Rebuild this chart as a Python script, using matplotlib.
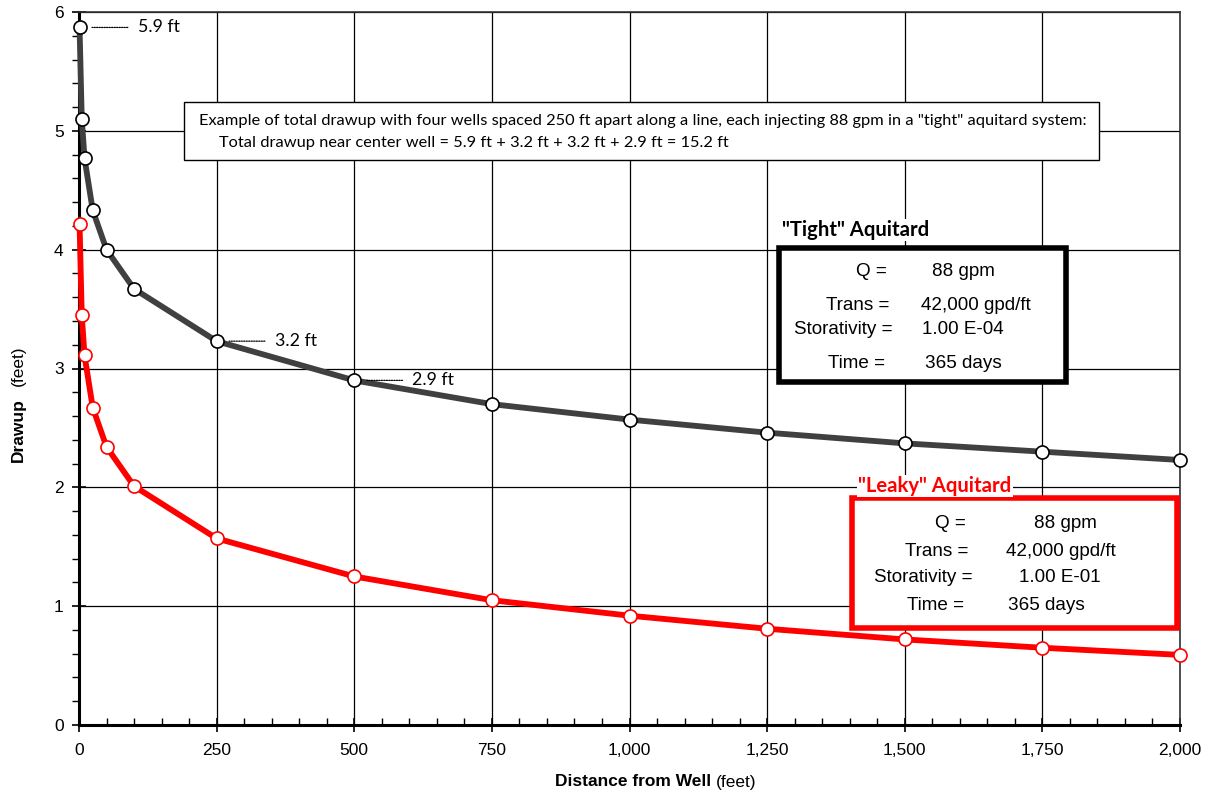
import matplotlib
matplotlib.use('Agg')
import matplotlib.pyplot as plt
import matplotlib.patches as patches
from matplotlib.ticker import MultipleLocator, StrMethodFormatter

# Data
distance = [1, 5, 10, 25, 50, 100, 250, 500, 750, 1000, 1250, 1500, 1750, 2000]
tight_drawup = [5.87, 5.10, 4.77, 4.33, 4.00, 3.67, 3.23, 2.90, 2.70, 2.57, 2.46, 2.37, 2.30, 2.23]
leaky_drawup = [4.22, 3.45, 3.11, 2.67, 2.34, 2.01, 1.57, 1.25, 1.05, 0.92, 0.81, 0.72, 0.65, 0.59]

callout_idx = [0, 6, 7]  # points labelled with their drawup
box_labels = ['Q =', 'Trans =', 'Storativity =', 'Time =']
tight_values = ['88 gpm', '42,000 gpd/ft', '1.00 E-04', '365 days']
leaky_values = ['88 gpm', '42,000 gpd/ft', '1.00 E-01', '365 days']

W, H = 1214, 796
NARROW = ['Liberation Sans Narrow', 'Liberation Sans', 'DejaVu Sans']
CAL = ['Lato', 'DejaVu Sans']
ARIAL = ['Liberation Sans', 'DejaVu Sans']


def px(x, y):
    """pixel position (from top-left) -> figure fraction"""
    return x / W, 1 - y / H


fig = plt.figure(figsize=(W / 100, H / 100), dpi=100)
ax = fig.add_axes([79 / W, 1 - 725 / H, 1101 / W, 713 / H])

ax.plot(distance, tight_drawup, color='#404040', lw=4.2, marker='o', ms=9.4,
        mfc='white', mec='black', mew=1.2, zorder=3, clip_on=False)
ax.plot(distance, leaky_drawup, color='#ff0000', lw=4.2, marker='o', ms=9.4,
        mfc='white', mec='#ff0000', mew=1.2, zorder=3, clip_on=False)

for i in callout_idx:
    ax.annotate(f'{tight_drawup[i]:.1f} ft', (distance[i], tight_drawup[i]),
                xytext=(58, 0), textcoords='offset pixels', va='center', ha='left',
                fontsize=12.8, family=CAL,
                arrowprops=dict(arrowstyle='-', ls=(0, (1, 1)), lw=0.9, color='black',
                                shrinkA=5, shrinkB=9))

ax.set_xlim(0, 2000)
ax.set_ylim(0, 6)
ax.xaxis.set_major_locator(MultipleLocator(250))
ax.xaxis.set_minor_locator(MultipleLocator(50))
ax.yaxis.set_major_locator(MultipleLocator(1))
ax.yaxis.set_minor_locator(MultipleLocator(0.2))
ax.xaxis.set_major_formatter(StrMethodFormatter('{x:,.0f}'))
ax.tick_params(axis='x', which='major', direction='inout', length=10, width=1.2, pad=8)
ax.tick_params(axis='x', which='minor', direction='in', length=5, width=1)
ax.tick_params(axis='y', which='major', direction='inout', length=10, width=1.2, pad=6)
ax.tick_params(axis='y', which='minor', direction='out', length=5, width=1)
for lab in ax.get_xticklabels() + ax.get_yticklabels():
    lab.set_family(NARROW)
    lab.set_fontsize(12.5)

ax.grid(True, which='major', color='black', lw=0.9)
ax.set_axisbelow(True)
for s in ['left', 'bottom']:
    ax.spines[s].set_linewidth(2.2)
for s in ['top', 'right']:
    ax.spines[s].set_linewidth(1.2)
    ax.spines[s].set_color('#333333')

# axis titles: bold part + normal units
fig.text(*px(711, 782), 'Distance from Well', ha='right', va='center',
         fontsize=12.5, fontweight='bold', family=NARROW)
fig.text(*px(716, 782), '(feet)', ha='left', va='center', fontsize=12.5, family=NARROW)
fig.text(*px(18, 462), 'Drawup', rotation=90, ha='center', va='bottom',
         fontsize=12.5, fontweight='bold', family=NARROW)
fig.text(*px(18, 386), '(feet)', rotation=90, ha='center', va='bottom',
         fontsize=12.5, family=NARROW)

# example note
x0, y0 = px(184, 160)
x1, y1 = px(1099, 102)
ax.add_patch(patches.Rectangle((x0, y0), x1 - x0, y1 - y0, transform=fig.transFigure,
                               facecolor='white', edgecolor='black', lw=1.0, zorder=5))
fig.text(*px(199, 121), 'Example of total drawup with four wells spaced 250 ft apart along a line, '
         'each injecting 88 gpm in a "tight" aquitard system:',
         ha='left', va='center', fontsize=11.8, family=CAL, zorder=6)
fig.text(*px(219, 143), 'Total drawup near center well = 5.9 ft + 3.2 ft + 3.2 ft + 2.9 ft = 15.2 ft',
         ha='left', va='center', fontsize=11.8, family=CAL, zorder=6)


def param_box(left, top, right, bottom, color, title, title_xy, label_right, value_left, rows_y, values):
    bx0, by0 = px(left, bottom)
    bx1, by1 = px(right, top)
    ax.add_patch(patches.Rectangle((bx0, by0), bx1 - bx0, by1 - by0, transform=fig.transFigure,
                                   facecolor='white', edgecolor=color, lw=4, zorder=5))
    fig.text(*px(*title_xy), title, ha='left', va='center', fontsize=14.6,
             fontweight='bold', color=color, family=CAL, zorder=6,
             bbox=dict(facecolor='white', edgecolor='none', pad=1))
    for lab, val, ly, lx, vx in zip(box_labels, values, rows_y, label_right, value_left):
        fig.text(*px(lx, ly), lab, ha='right', va='center', fontsize=13.6, family=ARIAL, zorder=6)
        fig.text(*px(vx, ly), val, ha='left', va='center', fontsize=13.6, family=ARIAL, zorder=6)


param_box(779, 248, 1066, 382, 'black', '"Tight" Aquitard', (782, 230),
          [887, 889, 893, 885], [932, 921, 922, 925], [272, 305, 330, 364], tight_values)
param_box(852, 498, 1177, 628, '#ff0000', '"Leaky" Aquitard', (858, 486),
          [966, 968, 972, 964], [1034, 1006, 1019, 1008], [523, 552, 578, 606], leaky_values)

fig.savefig('out.png', dpi=100)
